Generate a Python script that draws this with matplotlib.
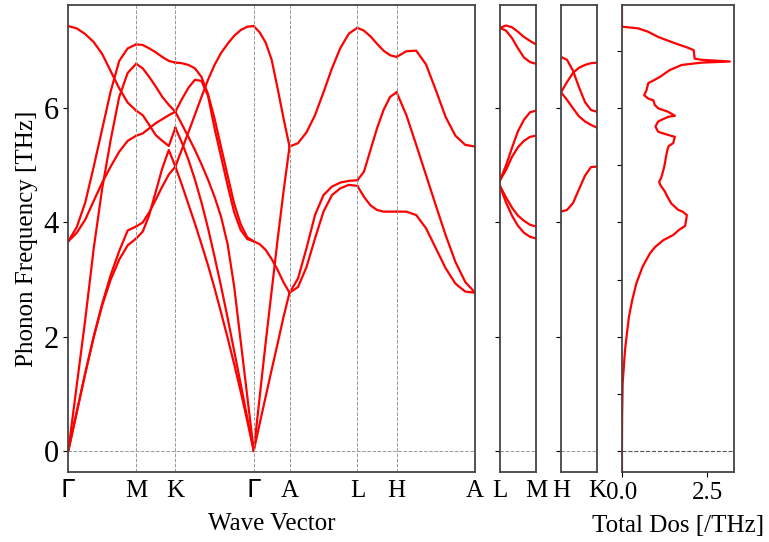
import numpy as np
import matplotlib
matplotlib.use("Agg")
import matplotlib.pyplot as plt

plt.rcParams["font.family"] = ["Liberation Serif", "DejaVu Serif"]
plt.rcParams["font.size"] = 18
plt.rcParams["mathtext.fontset"] = "dejavusans"

# q-path segment lengths (relative) and labels
main_labels = [r"$\Gamma$", "M", "K", r"$\Gamma$", "A", "L", "H", "A"]
main_seg_len = [1.0, 0.577, 1.155, 0.527, 1.0, 0.577, 1.155]

# bands on each segment, values in THz read along the segment
GM = [
    [7.44, 7.40, 7.30, 7.16, 6.95, 6.65, 6.35, 6.10, 5.96],
    [3.67, 3.92, 4.35, 4.98, 5.64, 6.30, 6.83, 7.05, 7.12],
    [0.00, 1.15, 2.30, 3.55, 4.60, 5.45, 6.20, 6.62, 6.78],
    [3.67, 3.82, 4.05, 4.38, 4.70, 4.98, 5.24, 5.43, 5.52],
    [0.00, 0.68, 1.36, 2.00, 2.58, 3.08, 3.50, 3.86, 3.93],
    [0.00, 0.68, 1.36, 2.00, 2.55, 3.00, 3.35, 3.60, 3.72],
]
MK = [
    [7.12, 7.11, 7.05, 6.98, 6.90, 6.83, 6.80],
    [6.78, 6.70, 6.55, 6.38, 6.20, 6.06, 5.94],
    [5.96, 5.88, 5.71, 5.53, 5.43, 5.34, 5.66],
    [5.52, 5.56, 5.65, 5.74, 5.81, 5.88, 5.94],
    [3.93, 4.00, 4.18, 4.40, 4.63, 4.84, 4.98],
    [3.72, 3.84, 4.13, 4.54, 4.95, 5.27, 4.98],
]
KG = [
    [6.80, 6.79, 6.76, 6.70, 6.55, 6.25, 5.82, 5.32, 4.82, 4.33, 3.97, 3.74, 3.67],
    [5.94, 6.16, 6.36, 6.50, 6.48, 6.22, 5.65, 5.15, 4.65, 4.18, 3.87, 3.71, 3.67],
    [4.98, 5.28, 5.58, 5.89, 6.20, 6.50, 6.76, 6.97, 7.13, 7.27, 7.37, 7.43, 7.44],
    [5.94, 5.72, 5.50, 5.27, 5.02, 4.75, 4.45, 4.10, 3.62, 2.88, 1.92, 0.96, 0.00],
    [5.66, 5.40, 5.10, 4.75, 4.35, 3.90, 3.40, 2.88, 2.33, 1.75, 1.17, 0.58, 0.00],
    [4.98, 4.66, 4.32, 3.98, 3.62, 3.25, 2.85, 2.42, 1.98, 1.52, 1.04, 0.53, 0.00],
]
GA = [
    [7.44, 7.33, 7.15, 6.85, 6.35, 5.82, 5.33],
    [0.00, 0.95, 1.90, 2.80, 3.70, 4.55, 5.33],
    [3.67, 3.62, 3.52, 3.36, 3.17, 2.95, 2.77],
    [0.00, 0.48, 0.95, 1.42, 1.88, 2.35, 2.77],
]
AL = [
    [5.33, 5.39, 5.58, 5.88, 6.28, 6.70, 7.06, 7.31, 7.41],
    [2.77, 3.02, 3.55, 4.13, 4.48, 4.63, 4.70, 4.73, 4.74],
    [2.77, 2.87, 3.22, 3.72, 4.19, 4.48, 4.60, 4.66, 4.64],
]
LH = [
    [7.41, 7.36, 7.26, 7.13, 7.01, 6.93, 6.90],
    [4.74, 4.89, 5.27, 5.65, 5.97, 6.20, 6.28],
    [4.64, 4.45, 4.30, 4.22, 4.19, 4.19, 4.19],
]
HA = [
    [6.90, 7.00, 7.01, 6.77, 6.32, 5.85, 5.52, 5.36, 5.33],
    [6.28, 5.88, 5.36, 4.83, 4.30, 3.78, 3.31, 2.96, 2.77],
    [4.19, 4.19, 4.13, 3.90, 3.55, 3.20, 2.93, 2.79, 2.77],
]
main_segments = [GM, MK, KG, GA, AL, LH, HA]

LM = [
    [7.41, 7.45, 7.42, 7.34, 7.25, 7.18, 7.12],
    [7.41, 7.36, 7.23, 7.05, 6.89, 6.81, 6.78],
    [4.74, 5.00, 5.31, 5.60, 5.80, 5.93, 5.96],
    [4.74, 4.92, 5.15, 5.32, 5.43, 5.50, 5.52],
    [4.64, 4.44, 4.26, 4.12, 4.03, 3.96, 3.93],
    [4.64, 4.35, 4.12, 3.94, 3.82, 3.75, 3.72],
]
HK = [
    [6.90, 6.85, 6.66, 6.37, 6.11, 5.97, 5.94],
    [6.28, 6.46, 6.62, 6.71, 6.76, 6.79, 6.80],
    [6.28, 6.15, 6.00, 5.86, 5.77, 5.71, 5.66],
    [4.19, 4.22, 4.34, 4.58, 4.82, 4.97, 4.98],
]
side_len = 0.527

# total DOS
dos_freq = [-0.4, 0.0, 0.6, 1.18, 1.76, 2.06, 2.35, 2.64, 2.93, 3.22, 3.46, 3.57,
            3.69, 3.78, 3.87, 3.94, 4.04, 4.13, 4.19, 4.22, 4.33, 4.45, 4.54,
            4.65, 4.71, 4.80, 4.98, 5.15, 5.27, 5.34, 5.39, 5.50, 5.55, 5.59,
            5.68, 5.77, 5.85, 5.87, 5.94, 6.00, 6.06, 6.14, 6.17, 6.23, 6.32,
            6.44, 6.50, 6.55, 6.67, 6.76, 6.80, 6.82, 6.85, 6.87, 7.02, 7.07,
            7.14, 7.25, 7.34, 7.40, 7.43, 7.84]
dos_val = [0.0, 0.0, 0.005, 0.02, 0.088, 0.146, 0.205, 0.30, 0.42, 0.60, 0.82, 0.97,
           1.21, 1.50, 1.67, 1.85, 1.88, 1.90, 1.78, 1.65, 1.45, 1.33, 1.26,
           1.13, 1.09, 1.16, 1.24, 1.29, 1.33, 1.37, 1.50, 1.55, 1.26, 1.06,
           0.98, 1.06, 1.35, 1.55, 1.35, 1.06, 0.96, 0.92, 0.77, 0.65, 0.72,
           0.77, 0.96, 1.11, 1.40, 1.75, 2.33, 3.16, 2.33, 2.13, 2.10, 1.89,
           1.55, 1.06, 0.77, 0.48, 0.0, 0.0]

ylim = (-0.37, 7.81)
band_kw = dict(color="red", lw=1.6)
grid_kw = dict(color="#999999", ls="--", lw=0.7)
spine_c = "#444444"


def style_axes(ax):
    for s in ax.spines.values():
        s.set_color(spine_c)
        s.set_linewidth(1.3)
    ax.set_ylim(*ylim)


def draw(ax, x0, length, bands):
    for b in bands:
        xs = np.linspace(x0, x0 + length, len(b))
        ax.plot(xs, b, **band_kw)


fig = plt.figure(figsize=(7.69, 5.42), dpi=100)
bottom, height = 0.1292, 0.8616
ax = fig.add_axes([0.0888, bottom, 0.5289, height])
ax2 = fig.add_axes([0.6502, bottom, 0.0468, height])
ax3 = fig.add_axes([0.7295, bottom, 0.0468, height])
ax4 = fig.add_axes([0.8088, bottom, 0.1456, height])

# main band panel
ticks = [0.0]
for L in main_seg_len:
    ticks.append(ticks[-1] + L)
for i, seg in enumerate(main_segments):
    draw(ax, ticks[i], main_seg_len[i], seg)
for t in ticks[1:-1]:
    ax.axvline(t, **grid_kw)
ax.axhline(0, **grid_kw)
ax.set_xlim(ticks[0], ticks[-1])
style_axes(ax)
ax.set_xticks(ticks)
ax.set_xticklabels(main_labels)
ax.tick_params(axis="x", length=0, pad=6)
ax.set_yticks([0, 2, 4, 6])
ax.tick_params(axis="y", labelsize=22)
ax.set_xlabel("Wave Vector", labelpad=8)
ax.set_ylabel("Phonon Frequency [THz]", labelpad=4)

# L-M and H-K panels
for a, bands, labs in [(ax2, LM, ["L", "M"]), (ax3, HK, ["H", "K"])]:
    draw(a, 0, side_len, bands)
    a.axhline(0, **grid_kw)
    a.set_xlim(0, side_len)
    style_axes(a)
    a.set_xticks([0, side_len])
    a.set_xticklabels(labs)
    a.tick_params(axis="x", length=0, pad=6)
    a.set_yticks([0, 2, 4, 6])
    a.set_yticklabels([])

# DOS panel
ax4.plot(dos_val, dos_freq, **band_kw)
ax4.axhline(0, color="#555555", ls="--", lw=0.8)
ax4.set_xlim(0, 3.28)
style_axes(ax4)
ax4.set_xticks([0, 2.5])
ax4.set_xticklabels(["0.0", "2.5"])
ax4.set_yticks(range(8))
ax4.set_yticklabels([])
ax4.set_xlabel("Total Dos [/THz]", labelpad=8)

fig.savefig("out.png", dpi=100)
